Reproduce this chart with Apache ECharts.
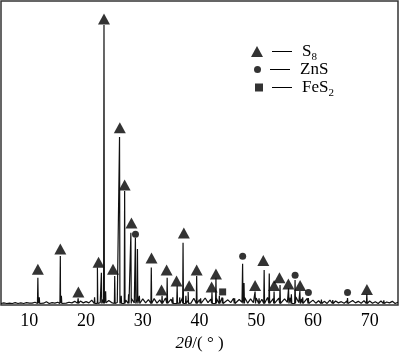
<!DOCTYPE html>
<html>
<head>
<meta charset="utf-8">
<script src="https://cdn.jsdelivr.net/npm/echarts@6/dist/echarts.min.js"></script>
<style>
  html, body { margin: 0; padding: 0; background: #fff; }
  #chart { width: 400px; height: 352px; }
</style>
</head>
<body>
<div id="chart"></div>
<script>
// peaks: 2theta (deg) and intensity (a.u., 0-1000)
var peakPos = [11.5, 11.75, 15.46, 15.65, 18.6, 21.5, 22.0, 22.7, 23.16, 23.45,
  25.05, 25.9, 26.2, 26.8, 27.5, 27.9, 28.7, 29.06, 29.4, 31.5,
  33.4, 34.3, 35.3, 36.06, 36.5, 37.1, 37.6, 38.0, 39.5, 40.2,
  42.2, 42.9, 43.5, 44.1, 46.2, 47.6, 47.85, 49.8, 50.5, 51.4,
  52.3, 53.15, 54.2, 55.7, 56.2, 56.85, 57.7, 58.2, 59.2, 61.5,
  63.5, 66.1, 69.5, 72.5];
var peakInt = [90, 25, 161, 30, 22, 25, 123, 106, 921, 45,
  95, 553, 30, 375, 35, 238, 221, 184, 30, 123,
  30, 90, 25, 63, 25, 205, 30, 43, 95, 22,
  42, 90, 30, 24, 22, 136, 72, 44, 22, 115,
  104, 44, 66, 56, 35, 82, 46, 25, 23, 18,
  16, 23, 36, 15];
var peakBase = 5;

// background noise, every 0.5 deg from 5 to 75
var noiseStart = 5;
var noiseStep = 0.5;
var noiseInt = [5, 7, 5, 6, 5, 8, 5, 7, 5, 8, 6,
  6, 9, 5, 7, 6, 11, 5, 8, 6, 9,
  7, 10, 6, 9, 7, 12, 6, 13, 7, 11,
  7, 16, 6, 14, 8, 18, 7, 15, 8, 17,
  8, 19, 7, 16, 9, 21, 7, 18, 8, 20,
  7, 18, 8, 21, 6, 17, 9, 23, 7, 19,
  8, 20, 7, 24, 9, 16, 6, 22, 8, 18,
  7, 23, 8, 19, 6, 21, 9, 25, 7, 17,
  8, 22, 7, 18, 9, 24, 6, 20, 8, 23,
  7, 19, 9, 25, 6, 21, 8, 23, 7, 20,
  9, 24, 7, 26, 8, 20, 6, 22, 8, 16,
  6, 14, 7, 12, 5, 16, 6, 13, 7, 11,
  6, 13, 5, 15, 7, 12, 6, 14, 5, 13,
  6, 11, 5, 13, 6, 10, 7, 12, 5, 9];

// phase markers [2theta, height]
var s8Marks = [[11.5, 118], [15.46, 184], [18.64, 43], [22.2, 141], [23.16, 941],
  [24.75, 118], [25.95, 583], [26.8, 395], [28.0, 270], [31.54, 155],
  [33.3, 49], [34.2, 115], [35.95, 79], [37.24, 237], [38.18, 63],
  [39.5, 115], [42.14, 59], [42.9, 102], [49.8, 64], [51.25, 146],
  [53.15, 64], [54.1, 90], [55.67, 69], [57.74, 64], [69.52, 51]];
var znsMarks = [[28.71, 233], [47.61, 160], [56.86, 98], [59.2, 41], [66.1, 41]];
var fes2Marks = [[44.08, 43]];

var xTicks = [10, 20, 30, 40, 50, 60, 70];

var pattern = [];
noiseInt.forEach(function (v, i) {
  pattern.push([noiseStart + i * noiseStep, v]);
});
peakPos.forEach(function (p, i) {
  pattern.push([p - 0.07, peakBase], [p, peakInt[i]], [p + 0.07, peakBase]);
});
pattern.sort(function (a, b) { return a[0] - b[0]; });

var serif = 'Liberation Serif';
var legendLabels = {'S8': 'S{sub|8}', 'ZnS': 'ZnS', 'FeS2': 'FeS{sub|2}'};
var legendText = {
  color: '#000',
  fontFamily: serif,
  fontSize: 17,
  lineHeight: 17,
  rich: {
    sp: {width: 4},
    ln: {width: 20, height: 1, backgroundColor: '#000'},
    g: {width: 10},
    sub: {fontSize: 11, fontFamily: serif, color: '#000', lineHeight: 11, padding: [12, 0, 0, 0]}
  }
};
function legendFmt(name) {
  return '{sp|}{ln|}{g|}' + legendLabels[name];
}

var chart = echarts.init(document.getElementById('chart'));
chart.setOption({
  animation: false,
  grid: {left: 1, right: 2, top: 1, bottom: 47, show: true, borderColor: '#333', borderWidth: 1.5,
    outerBoundsMode: 'none'},
  legend: [
    {data: [{name: 'S8', icon: 'triangle'}], left: 246, top: 35, itemWidth: 12, itemHeight: 11,
      formatter: legendFmt, textStyle: legendText, selectedMode: false},
    {data: [{name: 'ZnS', icon: 'circle'}], left: 249, top: 56, itemWidth: 7, itemHeight: 7,
      formatter: legendFmt, textStyle: legendText, selectedMode: false},
    {data: [{name: 'FeS2', icon: 'rect'}], left: 250, top: 71, itemWidth: 8, itemHeight: 8,
      formatter: legendFmt, textStyle: legendText, selectedMode: false}
  ],
  xAxis: {
    type: 'value',
    min: 5,
    max: 75,
    interval: 5,
    axisLine: {show: false},
    axisTick: {show: false},
    splitLine: {show: false},
    axisLabel: {
      color: '#000',
      fontFamily: serif,
      fontSize: 18,
      margin: 7,
      formatter: function (v) { return xTicks.indexOf(v) >= 0 ? String(v) : ''; }
    },
    name: '{i|2θ}/( ° )',
    nameLocation: 'middle',
    nameGap: 27,
    nameTextStyle: {
      color: '#000',
      fontFamily: serif,
      fontSize: 17,
      rich: {i: {fontStyle: 'italic', fontFamily: serif, fontSize: 17, color: '#000'}}
    }
  },
  yAxis: {type: 'value', min: 0, max: 1000, show: false},
  series: [
    {type: 'line', name: 'pattern', data: pattern, showSymbol: false, silent: true,
      lineStyle: {color: '#111', width: 1.2}},
    {type: 'scatter', name: 'S8', data: s8Marks, symbol: 'triangle', symbolSize: [12, 11],
      itemStyle: {color: '#000'}},
    {type: 'scatter', name: 'ZnS', data: znsMarks, symbol: 'circle', symbolSize: 7,
      itemStyle: {color: '#000'}},
    {type: 'scatter', name: 'FeS2', data: fes2Marks, symbol: 'rect', symbolSize: 7,
      itemStyle: {color: '#000'}}
  ]
});
</script>
</body>
</html>
